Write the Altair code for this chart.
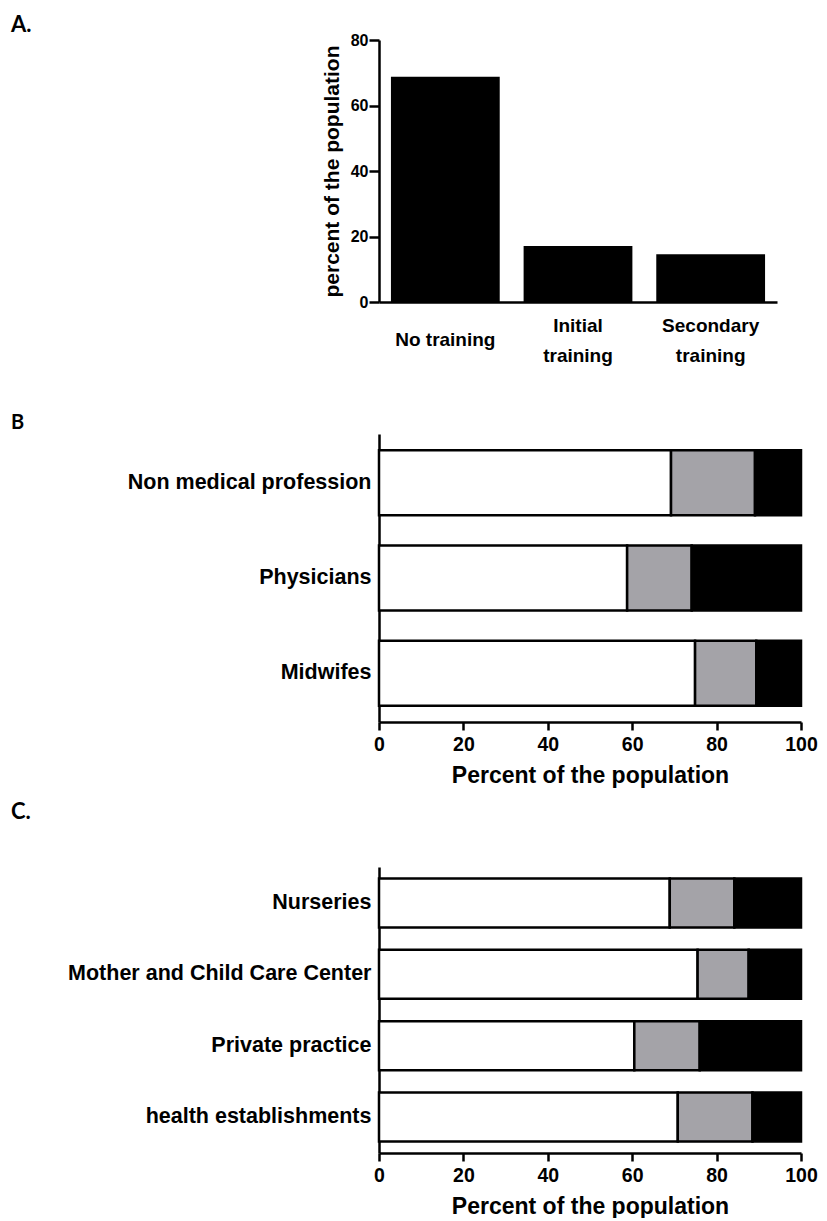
import altair as alt
import pandas as pd

# ---------------- data ----------------
training_levels = ["No training", "Initial training", "Secondary training"]
training_pct = [68.8, 17.1, 14.6]

prof_categories = ["Non medical profession", "Physicians", "Midwifes"]
prof_none = [69.2, 58.8, 74.9]
prof_initial = [19.9, 15.3, 14.5]
prof_secondary = [10.9, 25.9, 10.6]

place_categories = ["Nurseries", "Mother and Child Care Center",
                    "Private practice", "health establishments"]
place_none = [68.9, 75.5, 60.5, 70.8]
place_initial = [15.3, 12.1, 15.5, 17.7]
place_secondary = [15.8, 12.4, 24.0, 11.5]

seg_colors = ["white", "#a4a3a8", "black"]

FONT = "Liberation Sans"
TITLE_FONT = "Lato"


def long_table(cats, none, initial, secondary):
    rows = []
    for i, c in enumerate(cats):
        for rank, (lvl, v) in enumerate(zip(training_levels, [none[i], initial[i], secondary[i]])):
            rows.append({"category": c, "level": lvl, "value": v, "rank": rank})
    return pd.DataFrame(rows)


dfA = pd.DataFrame({"level": training_levels, "pct": training_pct})
dfB = long_table(prof_categories, prof_none, prof_initial, prof_secondary)
dfC = long_table(place_categories, place_none, place_initial, place_secondary)

# ---------------- panel A ----------------
chartA = alt.Chart(dfA).mark_bar(color="black").encode(
    x=alt.X(
        "level:N",
        sort=training_levels,
        scale=alt.Scale(paddingInner=0.18, paddingOuter=0.09),
        axis=alt.Axis(
            title=" ", titleFontSize=10, titlePadding=23,
            labelAngle=0, ticks=False, tickSize=0,
            labelExpr="datum.value == 'No training' ? datum.value : split(datum.value, ' ')",
            labelPadding={"condition": {"test": "datum.value == 'No training'", "value": 28},
                          "value": 14.5},
            labelLineHeight=30, labelFontSize=19, labelBaseline="top",
            labelAlign="center", labelLimit=400,
        ),
    ),
    y=alt.Y(
        "pct:Q",
        scale=alt.Scale(domain=[0, 80]),
        axis=alt.Axis(values=[0, 20, 40, 60, 80], title="percent of the population",
                      titleFontSize=21, titlePadding=8, tickSize=10, labelPadding=1,
                      labelFontSize=16, labelFlush=False),
    ),
).properties(
    width=398, height=262,
    title=alt.TitleParams("A.", anchor="start", frame="group", dx=-368, dy=3, offset=-19,
                          fontSize=22, font=TITLE_FONT, fontWeight="bold",
                          baseline="alphabetic", color="black"),
)


# ---------------- stacked panels ----------------
def stacked(df, cats, height, pad_inner, pad_outer, title, tsize, toffset):
    return alt.Chart(df).mark_bar(stroke="black", strokeWidth=2.5).encode(
        y=alt.Y(
            "category:N", sort=cats,
            scale=alt.Scale(paddingInner=pad_inner, paddingOuter=pad_outer),
            axis=alt.Axis(title=None, ticks=False, tickSize=0, labelPadding=8,
                          labelFontSize=21.5, labelLimit=400),
        ),
        x=alt.X(
            "value:Q", stack="zero",
            scale=alt.Scale(domain=[0, 100]),
            axis=alt.Axis(values=[0, 20, 40, 60, 80, 100], title="Percent of the population",
                          titleFontSize=23, titlePadding=10, tickSize=8, labelPadding=5.5,
                          labelFontSize=19.5, labelFlush=False),
        ),
        fill=alt.Fill("level:N", scale=alt.Scale(domain=training_levels, range=seg_colors),
                      legend=None),
        order=alt.Order("rank:Q"),
    ).properties(
        width=422, height=height,
        title=alt.TitleParams(title, anchor="start", frame="group", dx=-368, offset=toffset,
                              fontSize=tsize, font=TITLE_FONT, fontWeight="bold",
                              baseline="alphabetic", color="black"),
    )


chartB = stacked(dfB, prof_categories, 288, 0.316, 0.17, "B", 20, -15)
chartC = stacked(dfC, place_categories, 286, 0.313, 0.162, "C.", 22, 26)

chart = alt.vconcat(chartA, chartB, chartC, spacing=14).properties(
    padding={"left": 3, "top": 6, "right": 0, "bottom": 0}
).configure_axis(
    domainColor="black", domainWidth=2.5, tickColor="black", tickWidth=2.5,
    labelColor="black", titleColor="black", labelFont=FONT, titleFont=FONT,
    labelFontWeight="bold", titleFontWeight="bold", grid=False,
).configure_view(stroke=None)

chart.save("out.html", embed_options={"renderer": "svg", "actions": False})
